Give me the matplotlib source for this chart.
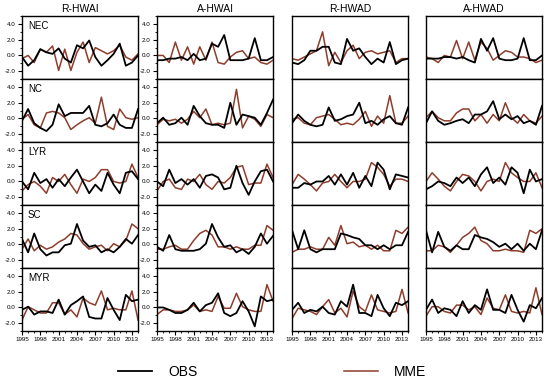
import matplotlib
matplotlib.use('Agg')
import matplotlib.pyplot as plt
from matplotlib.ticker import MultipleLocator
import numpy as np

plt.rcParams['font.family'] = ['Liberation Sans', 'DejaVu Sans']

years = list(range(1995, 2015))
indices = ['R-HWAI', 'A-HWAI', 'R-HWAD', 'A-HWAD']
regions = ['NEC', 'NC', 'LYR', 'SC', 'MYR']
xtick_years = [1995, 1998, 2001, 2004, 2007, 2010, 2013]

# ---NEC---
nec_obs = {
    'R-HWAI': [-0.2, -1.3, -0.6, 0.8, 0.4, 0.2, 0.9, -0.4, -0.9, 1.3, 0.9, 1.9, -0.2, -1.3, -0.6, 0.2, 1.5, -1.3, -0.9, 0.0],
    'A-HWAI': [-0.6, -0.6, -0.4, -0.4, -0.2, -0.6, 0.2, -0.6, -0.4, 1.5, 1.1, 2.6, -0.6, -0.6, -0.6, -0.4, 2.2, -0.6, -0.6, -0.2],
    'R-HWAD': [-0.9, -1.1, -0.6, 0.6, 0.6, 1.1, 1.1, -0.9, -1.1, 2.1, 0.6, 0.9, -0.2, -1.1, -0.4, -0.9, 1.7, -1.1, -0.6, -0.4],
    'A-HWAD': [-0.4, -0.4, -0.4, -0.2, -0.2, -0.4, -0.2, -0.6, -0.9, 2.1, 0.6, 2.2, -0.4, -0.6, -0.6, -0.4, 2.2, -0.6, -0.6, 0.0],
}
nec_mme = {
    'R-HWAI': [-0.4, 0.0, -0.9, 0.8, 0.4, 1.2, -1.9, 0.8, -1.9, 0.4, 1.7, -0.9, 1.0, 0.6, 0.2, 0.6, 1.3, -0.2, -0.6, 0.2],
    'A-HWAI': [0.0, 0.0, -0.9, 1.7, -0.6, 1.1, -1.1, 1.1, -0.6, 1.7, -0.9, -1.1, -0.2, 0.4, 0.6, -0.4, -0.2, -0.9, -1.1, -0.6],
    'R-HWAD': [-0.4, -0.6, -0.2, 0.2, 0.6, 3.0, -1.3, 0.4, -0.9, 0.6, 1.3, -0.4, 0.4, 0.6, 0.2, 0.4, 0.6, -0.9, -0.4, -0.4],
    'A-HWAD': [-0.2, -0.4, -0.9, 0.0, -0.2, 1.9, -0.4, 1.7, -0.6, 1.7, 0.9, -0.6, 0.0, 0.6, 0.4, -0.2, -0.2, -0.4, -0.9, -0.6],
}

# ---NC---
nc_obs = {
    'R-HWAI': [-0.3, 1.2, -0.6, -1.2, -1.6, -0.8, 1.8, 0.3, 0.7, 0.7, 0.7, 1.6, -0.8, -1.0, -0.6, 0.5, -0.8, -1.2, -1.2, 1.2],
    'A-HWAI': [-0.6, 0.1, -0.8, -0.6, 0.1, -0.8, 1.6, 0.3, -0.6, -0.8, -0.8, -1.2, 2.0, -0.8, 0.5, 0.3, 0.1, -0.8, 0.7, 2.4],
    'R-HWAD': [-0.6, 0.5, -0.3, -0.8, -1.0, -0.8, 1.4, -0.3, -0.1, 0.3, 0.5, 2.0, -0.6, -0.3, -0.8, -0.1, 0.3, -0.6, -0.8, 1.4],
    'A-HWAD': [-0.6, 0.9, -0.3, -0.8, -0.6, -0.3, -0.1, -0.6, 0.5, 0.5, 0.9, 2.2, -0.1, 0.5, -0.1, 0.3, -0.6, -0.3, -0.8, 1.6],
}
nc_mme = {
    'R-HWAI': [-0.1, 0.5, -0.8, -1.2, 0.7, 0.9, 0.7, 0.1, -1.4, -0.8, -0.3, 0.1, -0.6, 2.7, -1.0, -1.4, 1.2, 0.1, -0.1, 0.1],
    'A-HWAI': [-0.8, -0.1, -0.3, -0.1, -0.6, -0.1, 0.9, 0.1, 1.2, -0.8, -0.6, -0.8, -0.6, 3.7, -1.2, 0.3, -0.1, -1.0, 0.5, 0.1],
    'R-HWAD': [-0.1, 0.1, -0.6, -0.8, 0.1, 0.3, 0.5, -0.1, -0.8, -0.6, -0.8, -0.1, 0.9, -1.0, 0.3, -0.6, 2.9, -0.6, -0.6, 0.3],
    'A-HWAD': [0.1, 0.9, 0.1, -0.3, -0.3, 0.7, 1.2, 1.2, -0.3, 0.5, -0.6, 0.5, -0.3, 2.0, 0.1, -0.6, 0.5, -0.3, -0.6, 0.3],
}

# ---LYR---
lyr_obs = {
    'R-HWAI': [0.0, -1.0, 1.1, -0.2, 0.3, -0.8, 0.3, -0.6, 0.5, 1.5, 0.0, -1.5, -0.4, -1.2, 1.1, -0.4, -1.5, 1.1, 1.3, 0.3],
    'A-HWAI': [0.0, -0.6, 1.5, -0.2, 0.3, -0.4, 0.3, -0.8, 0.7, 0.9, 0.5, -1.0, -0.8, 2.0, -0.2, -1.7, 0.0, 1.3, 1.5, 0.0],
    'R-HWAD': [-0.8, -0.8, -0.2, -0.4, 0.0, 0.0, 0.7, -0.4, 0.9, -0.4, 1.1, -0.8, 0.7, -0.6, 2.4, 1.5, -1.0, 0.9, 0.7, 0.5],
    'A-HWAD': [-1.0, -0.6, 0.0, -0.2, -0.6, 0.5, -0.2, 0.5, -0.6, 0.9, 1.8, -0.2, 0.5, -0.4, 1.8, 1.1, -1.5, 1.5, 0.0, 0.3],
}
lyr_mme = {
    'R-HWAI': [-1.2, -0.4, 0.0, -0.6, -1.5, 0.5, 0.0, 0.9, -0.4, -1.5, 0.3, 0.0, 0.5, 1.5, 1.5, 0.0, -0.2, 0.0, 2.2, 0.5],
    'A-HWAI': [-1.2, 0.0, 0.3, -0.8, -1.0, 0.3, 0.0, 0.9, -0.4, -1.0, 0.0, -0.2, 0.5, 1.8, 2.0, -0.4, -0.2, -0.2, 2.2, 0.5],
    'R-HWAD': [-0.4, 0.9, 0.3, -0.4, -1.2, -0.2, 0.0, 0.9, 0.0, -0.8, 0.0, 0.0, 0.3, 2.4, 1.8, 0.9, -0.6, 0.3, 0.3, 0.0],
    'A-HWAD': [0.0, 1.1, 0.3, -0.6, -1.2, 0.0, 0.9, 0.7, 0.0, -1.2, 0.0, 0.3, 0.0, 2.4, 1.1, 0.5, 0.0, 0.0, 1.1, -0.8],
}

# ---SC---
sc_obs = {
    'R-HWAI': [0.7, -1.0, 1.4, -0.6, -1.4, -1.0, -1.0, -0.1, 0.1, 2.6, 0.5, -0.3, -0.1, -1.0, -0.6, -1.0, -0.3, 0.7, 0.1, 1.2],
    'A-HWAI': [-0.3, -0.8, 1.2, -0.6, -0.8, -0.8, -0.8, -0.6, 0.1, 2.6, 0.9, -0.3, -0.1, -1.0, -0.6, -1.2, -0.3, 1.4, 0.1, 1.1],
    'R-HWAD': [1.8, -0.6, 1.8, -0.6, -1.0, -0.6, -0.6, -0.6, 1.4, 1.2, 0.9, 0.7, -0.1, -0.1, -0.6, -0.1, -0.6, -0.1, -0.1, 1.6],
    'A-HWAD': [1.8, -1.0, 1.6, -0.3, -0.8, -0.1, -0.6, -0.6, 1.2, 0.9, 0.7, 0.3, -0.3, 0.1, -0.6, 0.1, -0.8, 0.1, -0.6, 1.8],
}
sc_mme = {
    'R-HWAI': [-0.6, 0.7, -0.8, -0.1, -0.6, -0.3, 0.3, 0.7, 1.4, 1.2, 0.1, -0.6, -0.3, -0.1, -0.8, 0.1, -0.3, 0.5, 2.6, 2.0],
    'A-HWAI': [-0.6, -0.6, -0.3, -0.1, -0.6, -0.6, 0.5, 1.4, 1.8, 1.2, -0.3, -0.3, -0.6, -0.3, -0.6, -0.6, -0.1, -0.1, 2.4, 1.8],
    'R-HWAD': [-1.0, -0.6, -0.6, -0.3, -0.6, -0.6, 0.9, -0.1, 2.4, 0.1, 0.3, -0.3, -0.1, -0.6, -0.1, -0.8, -0.8, 1.8, 1.4, 2.2],
    'A-HWAD': [-0.8, -0.8, -0.1, -0.3, -1.0, -0.1, 0.9, 1.4, 2.2, 0.5, 0.1, -0.8, -0.8, -0.6, -0.8, -0.8, -1.0, 1.8, 1.4, 2.0],
}

# ---MYR---
myr_obs = {
    'R-HWAI': [-0.3, 0.1, -0.9, -0.5, -0.5, -0.7, 1.0, -0.9, 0.3, 0.8, 1.4, -1.2, -1.4, -1.4, 1.2, -0.3, -1.6, 1.6, 0.8, 1.0],
    'A-HWAI': [0.0, 0.0, -0.3, -0.7, -0.7, -0.3, 0.6, -0.5, 0.3, 0.6, 1.8, -0.7, -1.1, -0.7, 0.8, -0.5, -2.4, 1.4, 0.8, 1.0],
    'R-HWAD': [-0.3, 0.6, -0.7, -0.3, -0.5, 0.1, -0.7, -0.9, 0.8, 0.1, 2.9, -0.7, -0.7, -1.1, 1.6, -0.1, -1.1, 0.6, 0.3, 0.8],
    'A-HWAD': [-0.3, 1.0, -0.7, -0.1, -0.3, -1.1, 0.8, -0.7, 0.3, -0.3, 2.3, -0.3, -0.3, -0.7, 1.6, -0.3, -1.8, 0.3, -0.1, 1.2],
}
myr_mme = {
    'R-HWAI': [-1.6, 0.1, -0.3, -0.7, -0.7, 0.6, 0.6, -0.9, -0.3, -1.2, 1.2, 0.6, 0.3, 2.1, -0.3, -0.1, -0.3, -0.3, 2.1, -1.6],
    'A-HWAI': [-0.9, -0.3, -0.3, -0.5, -0.5, -0.3, 0.3, -0.5, -0.3, -0.5, 1.4, -0.1, -0.1, 1.8, 0.1, -0.3, -0.5, -0.5, 2.9, 0.8],
    'R-HWAD': [-1.4, -0.1, -0.3, -0.5, -0.9, 0.1, 1.0, -0.7, -0.1, -1.2, 2.1, 0.1, -0.5, 1.6, -0.3, -0.5, -0.7, -0.5, 2.3, -0.7],
    'A-HWAD': [-1.1, 0.1, 0.1, -0.5, -0.7, 0.3, 0.3, -0.3, 0.1, -0.9, 1.2, -0.1, -0.3, 1.6, -0.5, -0.7, -0.5, -0.7, 2.5, -0.9],
}

obs_data = {'NEC': nec_obs, 'NC': nc_obs, 'LYR': lyr_obs, 'SC': sc_obs, 'MYR': myr_obs}
mme_data = {'NEC': nec_mme, 'NC': nc_mme, 'LYR': lyr_mme, 'SC': sc_mme, 'MYR': myr_mme}

obs_color = 'black'
mme_color = '#8e3d2c'

fig = plt.figure(figsize=(5.5, 3.83), dpi=100)

col_left = [0.040, 0.2855, 0.531, 0.7745]
col_w = 0.211
row_h = 0.1645
top = 0.958

for j, idx in enumerate(indices):
    for i, reg in enumerate(regions):
        ax = fig.add_axes([col_left[j], top - (i + 1) * row_h, col_w, row_h])
        l_obs, = ax.plot(years, obs_data[reg][idx], color=obs_color, lw=1.3, zorder=3)
        l_mme, = ax.plot(years, mme_data[reg][idx], color=mme_color, lw=1.1, zorder=2)
        ax.set_xlim(1995, 2014)
        ax.set_ylim(-3, 5)
        for s in ax.spines.values():
            s.set_linewidth(1.0)
        ax.set_xticks(xtick_years)
        ax.xaxis.set_minor_locator(MultipleLocator(1))
        ax.set_yticks([-2, 0, 2, 4])
        ax.yaxis.set_minor_locator(MultipleLocator(1))
        ax.tick_params(which='major', direction='out', length=3, width=0.8, labelsize=4.5, pad=1.5)
        ax.tick_params(which='minor', direction='out', length=1.5, width=0.6)
        if i == len(regions) - 1:
            ax.set_xticklabels([str(y) for y in xtick_years])
        else:
            ax.tick_params(axis='x', which='both', bottom=False, labelbottom=False)
        if j < 2:
            ax.set_yticklabels(['-2.0', '0.0', '2.0', '4.0'])
        else:
            ax.tick_params(axis='y', which='both', left=False, labelleft=False)
        if j == 0:
            # region label only on the first column
            ax.text(0.05, 0.85, reg, transform=ax.transAxes, fontsize=7, va='center', ha='left')
        if i == 0:
            ax.set_title(idx, fontsize=7.5, pad=3)

fig.legend([l_obs, l_mme], ['OBS', 'MME'], loc='center', bbox_to_anchor=(0.495, 0.03),
           ncol=2, frameon=False, fontsize=10, handlelength=2.45, handletextpad=1.15,
           columnspacing=10.6)

fig.savefig('out.png', dpi=100)
